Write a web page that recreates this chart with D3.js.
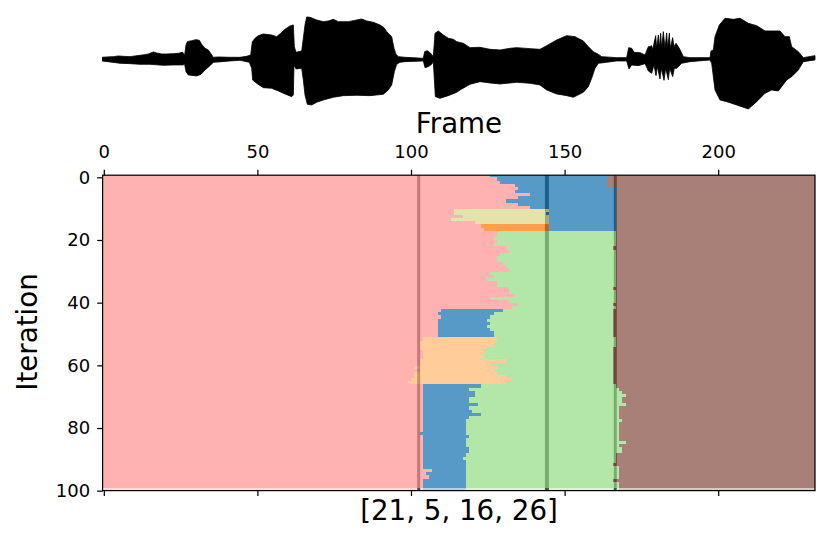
<!DOCTYPE html>
<html><head><meta charset="utf-8">
<style>html,body{margin:0;padding:0;background:#fff}svg{display:block}text{font-family:"DejaVu Sans",sans-serif;fill:#000}</style>
<script src="https://cdn.jsdelivr.net/npm/d3@7/dist/d3.min.js"></script>
</head><body><svg id="c" width="830" height="539"></svg>
<script>
const xTicks=[0,50,100,150,200];
const yTicks=[0,20,40,60,80,100];
const vLines=[102.5,144.25,166.5];
const xLabel="Frame", yLabel="Iteration", bottomLabel="[21, 5, 16, 26]";

const classColor={pink:"#ff9896",blue:"#1f77b4",yellow:"#dbdb8d",orange:"#ff7f0e",peach:"#ffbb78",green:"#98df8a",brown:"#8c564b"};

const pinkEnd=[126,128,129,134,135,134,139,135,131,135,139,114,114,117,113,121,123,124,
128,128,127,128,127,131,132,129,128,128,130,131,132,126,127,125,128,128,132,132,134,126,132,135,133,
110,109,110,109,109,109,109,109,109,
104,103,103,103,104,104,104,103,103,101,103,101,101,100,99,
104,104,104,104,104,104,104,104,104,104,104,104,104,104,104,103,104,104,104,104,104,104,104,104,104,104,104,107,105,106,104,104,104];
const midClass=[
...Array(11).fill("blue"),...Array(5).fill("yellow"),...Array(2).fill("orange"),
...Array(25).fill("green"),...Array(9).fill("blue"),...Array(15).fill("peach"),...Array(33).fill("blue")];
const thirdClass=[...Array(18).fill("blue"),...Array(82).fill("green")];
const midEnd=[145,145,145,145,145,145,145,145,145,145,145,145,144,145,145,145,145,145,
145,145,145,145,145,145,145,145,145,145,145,145,145,145,145,145,145,145,145,145,145,145,145,145,145,
130,127,126,125,126,125,126,127,127,
128,127,127,125,124,124,124,131,126,128,127,128,131,133,131,
123,119,121,121,119,119,122,119,120,123,119,118,118,118,118,118,119,118,118,118,119,119,118,117,118,118,118,118,118,118,118,118,118];
const brownStart=[165,164,164,164,168,167,167,167,167,167,167,167,167,167,167,167,167,167,167,167,167,167,167,166,
167,167,167,167,167,167,167,167,167,167,167,167,166,167,167,167,167,166,167,
166,166,166,166,166,166,166,166,166,167,167,167,166,166,166,166,166,166,166,166,166,166,166,166,
167,168,169,170,169,169,170,168,168,168,168,169,168,168,168,168,168,168,170,168,169,169,167,167,167,166,168,168,168,168,166,168,168];

const upperSample=[36,50,70,85,100,120,135,150,165,175,190,200,215,230,250,265,278,284,288,292,305,318,328,335,345,355,362,370,385,420,450,470,482,487,495,505,520,545,560,572,585,600,610,613,618,635,640,645,650,660,680,700,715,730,745,760,775,790,815,830,850,870,882,890,905,912,918,925,945,1000,1004,1012,1022,1030,1035,1045,1060,1075,1090,1100,
1120,1140,1170,1200,1230,1260,1280,1320,1350,1370,1400,1430,1455,1480,1495,1510,1525,1535,1580,1610,1616,1625,1632,1650,1665,1675,1680,1685,1688,1692,1697,1700,1705,1708,1712,1715,1720,1725,1730,1733,1738,1741,1748,1752,1758,1768,1780,1800,1860,1863,1870,1875,1888,1905,1930,1950,1975,2000,2025,2045,2070,2085,2098,2105,2125,2140,2175];
const upperAmp=[6,7,8,10,9,8,10,12,14,16,22,19,16,16,17,18,21,13,43,53,56,59,57,45,33,28,18,6,7,6,6,9,13,53,63,71,76,73,68,78,90,100,103,38,21,25,63,103,127,126,118,113,115,120,113,113,113,116,121,115,111,103,95,83,68,33,15,8,6,3,23,26,18,8,78,85,73,63,60,53,
48,35,36,30,28,33,35,32,30,41,58,71,68,55,38,23,15,8,5,5,35,33,21,20,13,38,38,41,28,48,71,33,73,33,78,33,83,33,79,33,78,33,65,38,48,33,8,5,5,25,28,68,103,123,120,123,108,101,85,85,85,68,68,38,23,5,11];
const lowerSample=[36,60,90,120,150,180,220,250,278,284,288,295,320,333,345,360,370,385,420,450,478,485,488,500,520,545,565,585,605,610,612,618,635,640,645,652,665,680,700,730,760,800,840,880,895,905,913,920,930,945,1000,1005,1015,1025,1030,1036,1050,1075,1100,
1110,1140,1170,1200,1230,1280,1320,1350,1370,1400,1430,1450,1480,1495,1505,1515,1525,1550,1580,1610,1617,1625,1645,1665,1675,1685,1692,1698,1702,1710,1714,1722,1727,1735,1739,1748,1753,1760,1775,1800,1860,1865,1875,1890,1910,1940,1975,2000,2025,2045,2065,2090,2105,2125,2140,2175];
const lowerAmp=[-5,-8,-12,-13,-15,-15,-18,-17,-17,-15,-37,-47,-50,-45,-32,-19,-9,-8,-5,-3,-9,-27,-62,-72,-85,-87,-95,-104,-112,-107,-17,-29,-27,-62,-107,-135,-137,-129,-122,-114,-109,-108,-109,-105,-92,-77,-37,-15,-9,-7,-5,-25,-22,-15,-7,-112,-117,-109,-99,
-92,-75,-67,-71,-74,-69,-72,-77,-92,-104,-109,-114,-99,-82,-57,-27,-12,-9,-5,-5,-29,-17,-19,-13,-35,-42,-17,-49,-22,-59,-27,-63,-27,-61,-27,-52,-27,-27,-12,-7,-2,-12,-92,-122,-127,-137,-149,-127,-102,-92,-95,-62,-52,-32,-7,-2];

const axLeft=102.6,axRight=815,axTop=175.2,axBottom=490.6;
const svg=d3.select("#c");

// waveform
const wx=d3.scaleLinear().domain([0,2190]).range([90,820]);
const wy=d3.scaleLinear().domain([-150,150]).range([109.3,9.3]);
const outline=[...upperSample.map((s,i)=>[s,upperAmp[i]]),...lowerSample.map((s,i)=>[s,lowerAmp[i]]).reverse()];
svg.append("path").datum(outline)
  .attr("fill","#000").attr("stroke","#000").attr("stroke-width",0.8).attr("stroke-linejoin","round")
  .attr("d",d3.line().x(d=>wx(d[0])).y(d=>wy(d[1])));

// axes scales
const x=d3.scaleLinear().domain([0,232]).range([103.8,103.8+232*3.072]);
const y=d3.scaleLinear().domain([0,100]).range([177.3,490.7]);
const colX=d3.scaleLinear().domain([0,232]).range([103.6,815.9]);
const rowY=d3.scaleLinear().domain([0,100]).range([174.3,488]);

svg.append("clipPath").attr("id","ax").append("rect")
  .attr("x",axLeft).attr("y",axTop).attr("width",axRight-axLeft).attr("height",axBottom-axTop);
const plot=svg.append("g").attr("clip-path","url(#ax)");

// the marker lines lie under the translucent cells
plot.selectAll("line.v").data(vLines).join("line").attr("class","v")
  .attr("x1",d=>x(d)).attr("x2",d=>x(d)).attr("y1",axTop).attr("y2",axBottom)
  .attr("stroke","#1a1a1a").attr("stroke-width",(d,i)=>i===1?4:3);

const cells=[];
const addRow=(r,src,op)=>{
  const a=pinkEnd[src],m=midEnd[src],c=brownStart[src];
  cells.push({r,op,k:"pink",from:null,to:a});
  cells.push({r,op,k:midClass[src],from:a,to:Math.max(a,m)});
  cells.push({r,op,k:thirdClass[src],from:Math.max(a,m),to:c});
  cells.push({r,op,k:"brown",from:c,to:null});
};
pinkEnd.forEach((a,r)=>addRow(r,r,0.75));
addRow(100,99,0.32);   // the pale sliver under the last row
const edge=v=>Math.round(colX(v));
plot.selectAll("rect.cell").data(cells).join("rect").attr("class","cell")
  .attr("x",d=>d.from===null?102:edge(d.from))
  .attr("width",d=>(d.to===null?816:edge(d.to))-(d.from===null?102:edge(d.from)))
  .attr("y",d=>Math.round(rowY(d.r)))
  .attr("height",d=>Math.round(rowY(d.r+1))-Math.round(rowY(d.r)))
  .attr("fill",d=>classColor[d.k]).attr("fill-opacity",d=>d.op)
  .attr("shape-rendering","crispEdges");

// axes
const fs="18px";
const styleAxis=g=>{g.select(".domain").remove();
  g.selectAll(".tick line").attr("stroke","#000").attr("stroke-width",1.23);
  g.selectAll(".tick text").attr("font-size",fs).attr("font-family",'"DejaVu Sans"').attr("fill","#000");};
svg.append("g").attr("transform",`translate(0,${axTop})`)
  .call(d3.axisTop(x).tickValues(xTicks).tickSize(5.4).tickPadding(12).tickFormat(d3.format("d"))).call(styleAxis);
svg.append("g").attr("transform",`translate(0,${axBottom})`)
  .call(d3.axisBottom(x).tickValues(xTicks).tickSize(5.4).tickFormat("")).call(styleAxis);
svg.append("g").attr("transform",`translate(${axLeft},0)`)
  .call(d3.axisLeft(y).tickValues(yTicks).tickSize(5.4).tickPadding(7).tickFormat(d3.format("d"))).call(styleAxis);

svg.append("rect").attr("x",axLeft).attr("y",axTop).attr("width",axRight-axLeft).attr("height",axBottom-axTop)
  .attr("fill","none").attr("stroke","#000").attr("stroke-width",1.23);

svg.append("text").attr("x",459).attr("y",133).attr("text-anchor","middle").attr("font-size","27.7px").text(xLabel);
svg.append("text").attr("x",459).attr("y",520).attr("text-anchor","middle").attr("font-size","27.7px").text(bottomLabel);
svg.append("text").attr("transform","translate(37,332) rotate(-90)").attr("text-anchor","middle").attr("font-size","27.7px").text(yLabel);
</script></body></html>
